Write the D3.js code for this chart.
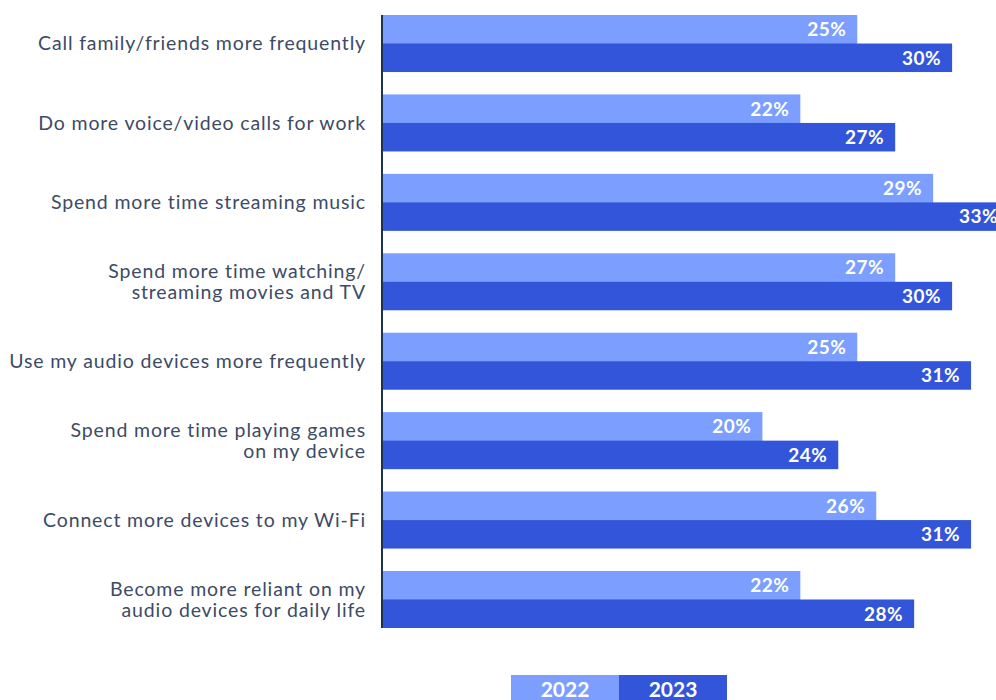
<!DOCTYPE html>
<html><head><meta charset="utf-8">
<script src="https://cdn.jsdelivr.net/npm/d3@7"></script>
<style>body{margin:0;background:#fff}svg{display:block}</style>
</head><body>
<script>
const categories = [
  ["Call family/friends more frequently"],
  ["Do more voice/video calls for work"],
  ["Spend more time streaming music"],
  ["Spend more time watching/", "streaming movies and TV"],
  ["Use my audio devices more frequently"],
  ["Spend more time playing games", "on my device"],
  ["Connect more devices to my Wi-Fi"],
  ["Become more reliant on my", "audio devices for daily life"]
];
const series = ["2022", "2023"];
const values2022 = [25, 22, 29, 27, 25, 20, 26, 22];
const values2023 = [30, 27, 33, 30, 31, 24, 31, 28];
const colors = ["#7b9eff", "#3355d9"];

const W = 996, H = 700;
const svg = d3.select("body").append("svg").attr("width", W).attr("height", H);
const ids = categories.map((c, i) => i);
const y = d3.scaleBand().domain(ids).range([15, 628]).paddingInner(0.282).paddingOuter(0).align(0);
const ySub = d3.scaleBand().domain(series).range([0, y.bandwidth()]);
const x = d3.scaleLinear().domain([0, 33]).range([383, 383 + 33 * 18.97]);
const data = [values2022, values2023];

const g = svg.append("g");
ids.forEach(i => {
  series.forEach((s, si) => {
    const v = data[si][i];
    const y0 = y(i) + ySub(s);
    g.append("rect").attr("x", x(0)).attr("y", y0).attr("width", x(v) - x(0)).attr("height", ySub.bandwidth() + (si === 0 ? 0.5 : 0)).attr("fill", colors[si]);
    g.append("text").attr("x", x(v) - 11).attr("y", y0 + ySub.bandwidth() / 2).attr("dy", "0.36em")
      .attr("text-anchor", "end").attr("fill", "#fff").attr("font-family", "Lato, sans-serif")
      .attr("font-weight", 700).attr("font-size", 19).attr("letter-spacing", 0.5).text(v + "%");
  });
  const lines = categories[i];
  const cy = y(i) + y.bandwidth() / 2;
  const lh = 21;
  const t = g.append("text").attr("text-anchor", "end").attr("fill", "#3d4b66")
    .attr("font-family", "Lato, sans-serif").attr("font-size", 19.5).attr("font-weight", 400)
    .attr("letter-spacing", 0.85);
  lines.forEach((l, li) => {
    t.append("tspan").attr("x", 366).attr("y", cy + (li - (lines.length - 1) / 2) * lh).attr("dy", "0.35em").text(l);
  });
});

svg.append("line").attr("x1", 382).attr("x2", 382).attr("y1", 15).attr("y2", 628)
  .attr("stroke", "#1c3449").attr("stroke-width", 2);

// legend
const lx = d3.scaleBand().domain(series).range([511, 727]);
series.forEach((s, si) => {
  svg.append("rect").attr("x", lx(s)).attr("y", 675).attr("width", lx.bandwidth()).attr("height", 30).attr("fill", colors[si]);
  svg.append("text").attr("x", lx(s) + lx.bandwidth() / 2).attr("y", 697).attr("text-anchor", "middle")
    .attr("fill", "#fff").attr("font-family", "Lato, sans-serif").attr("font-weight", 700).attr("font-size", 21).text(s);
});
</script>
</body></html>
